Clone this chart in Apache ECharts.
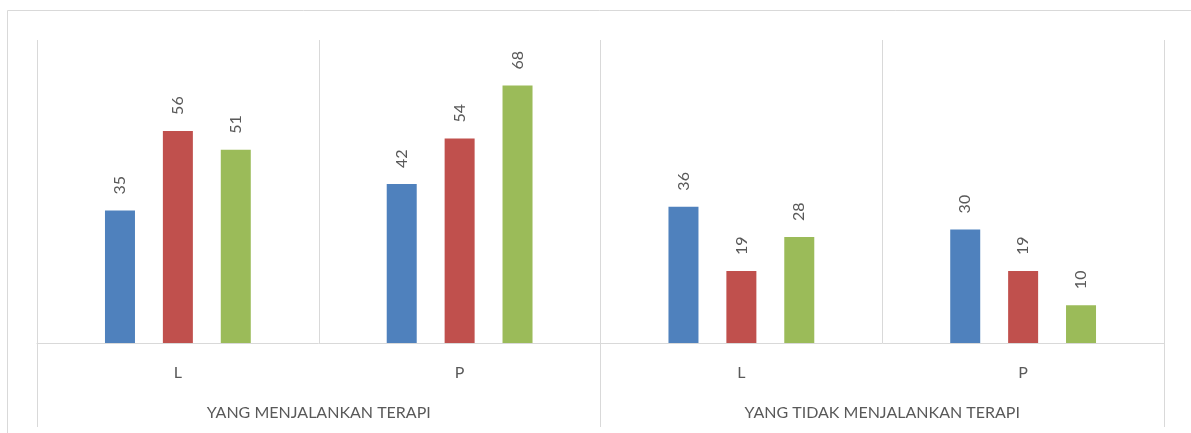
<!DOCTYPE html>
<html lang="en">
<head>
    <meta charset="UTF-8">
    <title>Terapi</title>
    <script src="https://cdn.jsdelivr.net/npm/echarts@6/dist/echarts.min.js"></script>
    <style>
        html, body { margin: 0; padding: 0; background: #fff; }
    </style>
</head>
<body>
<div id="main" style="width: 1191px;height:433px;"></div>
<script type="text/javascript">
    // categories (level 1 and level 2)
    var kategori = ['L', 'P', 'L', 'P'];
    var kelompok = ['YANG MENJALANKAN TERAPI', 'YANG TIDAK MENJALANKAN TERAPI'];
    // series values
    var seriBiru = [35, 42, 36, 30];
    var seriMerah = [56, 54, 19, 19];
    var seriHijau = [51, 68, 28, 10];
    var warna = ['#4f81bd', '#c0504d', '#9bbb59'];

    var garis = '#d9d9d9';
    var teks = '#595959';

    var myChart = echarts.init(document.getElementById('main'));

    function seri(data, idx) {
        return {
            type: 'bar',
            data: data,
            barWidth: 30,
            barGap: '93%',
            itemStyle: {color: warna[idx]},
            label: {
                show: true,
                position: 'top',
                rotate: 90,
                align: 'left',
                verticalAlign: 'middle',
                distance: 16,
                color: teks,
                fontSize: 16,
                fontFamily: 'Lato'
            }
        };
    }

    myChart.setOption({
        animation: false,
        graphic: [{
            type: 'rect',
            shape: {x: 7.5, y: 10.5, width: 1300, height: 600},
            style: {fill: 'none', stroke: garis, lineWidth: 1}
        }],
        grid: {left: 37, right: 27, top: 40, bottom: 90},
        xAxis: [
            {
                type: 'category',
                data: kategori,
                axisLine: {lineStyle: {color: garis, width: 1}},
                axisTick: {show: false},
                axisLabel: {color: teks, fontSize: 16, fontFamily: 'Lato', margin: 22},
                splitLine: {show: true, interval: 0, lineStyle: {color: garis, width: 1}}
            },
            {
                type: 'category',
                data: kelompok,
                position: 'bottom',
                axisLine: {show: false},
                axisTick: {show: true, length: 84, lineStyle: {color: garis, width: 1}},
                axisLabel: {color: teks, fontSize: 16, fontFamily: 'Lato', margin: 62},
                splitLine: {show: false}
            }
        ],
        yAxis: {
            type: 'value',
            min: 0,
            max: 80,
            show: false
        },
        series: [
            seri(seriBiru, 0),
            seri(seriMerah, 1),
            seri(seriHijau, 2)
        ]
    });
</script>
</body>
</html>
